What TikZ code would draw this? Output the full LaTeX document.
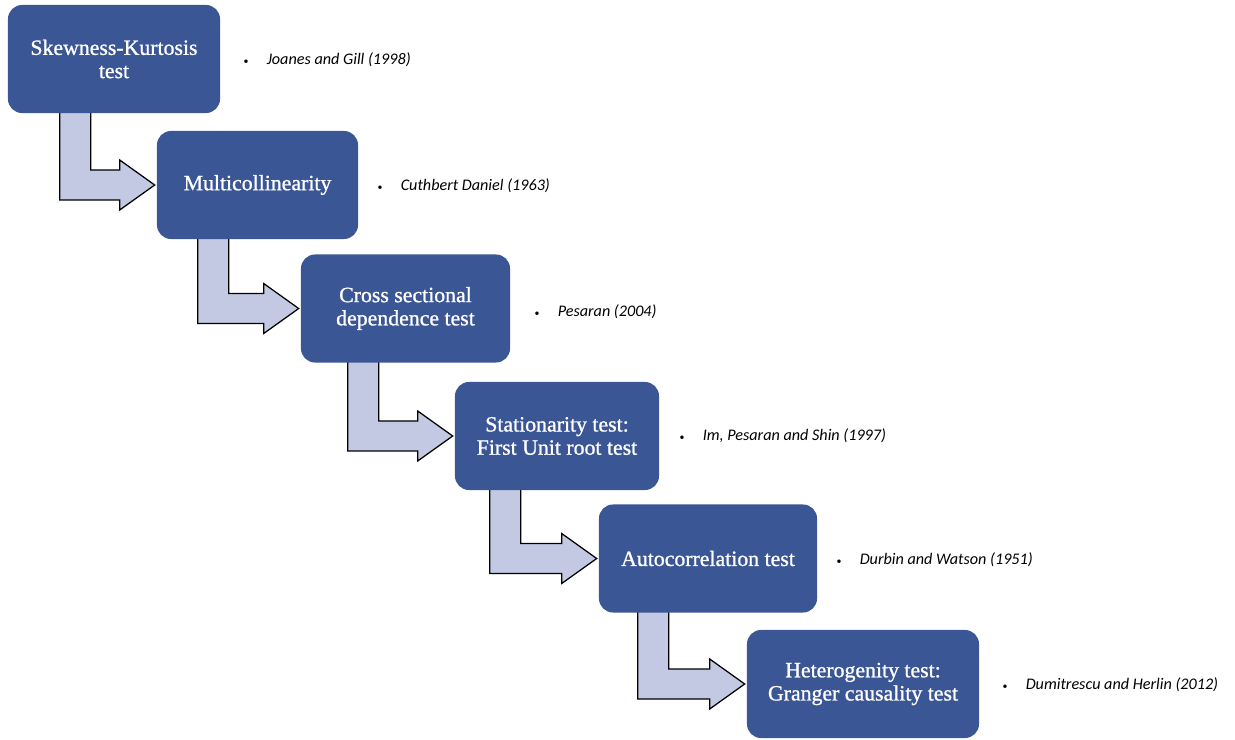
\documentclass[tikz,border=0pt]{standalone}
\usepackage{fontspec}
\setmainfont{Liberation Serif}
\newfontfamily\boxfont[FakeBold=1]{Liberation Serif}
\newfontfamily\notefont{Carlito}
\usetikzlibrary{calc,backgrounds,positioning}
\definecolor{mblue}{HTML}{3B5695}
\definecolor{mlav}{HTML}{C3C9E2}

\begin{document}
\begin{tikzpicture}[x=0.025cm,y=-0.025cm,
  testbox/.style={fill=mblue, rounded corners=3.5mm, minimum height=2.7cm, text=white, align=center, inner sep=0pt, font=\boxfont\fontsize{15.5}{16.5}\selectfont},
  refnote/.style={anchor=west, inner sep=0pt, font=\notefont\fontsize{11.5}{13}\selectfont},
  bendarrow/.style={draw=black, fill=mlav, line width=.9pt, line join=miter}]

\useasboundingbox (0,0) rectangle (1235,740);

% Test boxes
\node[testbox, minimum width=5.3cm] (sk) at (114,59) {Skewness-Kurtosis\\test};
\node[testbox, minimum width=5.025cm] (mc) at (257.5,185) {Multicollinearity};
\node[testbox, minimum width=5.225cm] (cs) at (405.5,308.5) {Cross sectional\\dependence test};
\node[testbox, minimum width=5.1cm] (st) at (557,436) {Stationarity test:\\First Unit root test};
\node[testbox, minimum width=5.45cm] (ac) at (708,558.5) {Autocorrelation test};
\node[testbox, minimum width=5.8cm] (ht) at (863,684) {Heterogenity test:\\Granger causality test};

% References
\newcommand\refdot{{\fontsize{7}{8}\selectfont\textbullet}\hspace{13pt}}
\node[refnote] (r1) at ($(sk.east)+(23,1)$) {\refdot\textit{Joanes and Gill (1998)}};
\node[refnote] (r2) at ($(mc.east)+(19,1)$) {\refdot\textit{Cuthbert Daniel (1963)}};
\node[refnote] (r3) at ($(cs.east)+(24,3)$) {\refdot\textit{Pesaran (2004)}};
\node[refnote] (r4) at ($(st.east)+(20,0)$) {\refdot\textit{Im, Pesaran and Shin (1997)}};
\node[refnote] (r5) at ($(ac.east)+(19,1)$) {\refdot\textit{Durbin and Watson (1951)}};
\node[refnote] (r6) at ($(ht.east)+(23,1)$) {\refdot\textit{Dumitrescu and Herlin (2012)}};

% Bent arrows
\begin{scope}[on background layer]
\foreach \a/\b/\l in {sk/mc/95, mc/cs/101, cs/st/105, st/ac/107, ac/ht/107}{
  \coordinate (tip) at ($(\b.west)+(-2,0)$);
  \coordinate (shaft) at ($(\a.south -| tip)+(-\l,-2)$);
  \draw[bendarrow] (shaft) -- ++(31,0) |- ($(tip)+(-35,-15)$) -- ++(0,-10) -- (tip)
    -- ++(-35,25) -- ++(0,-10) -| (shaft);
}
\end{scope}

\end{tikzpicture}
\end{document}
